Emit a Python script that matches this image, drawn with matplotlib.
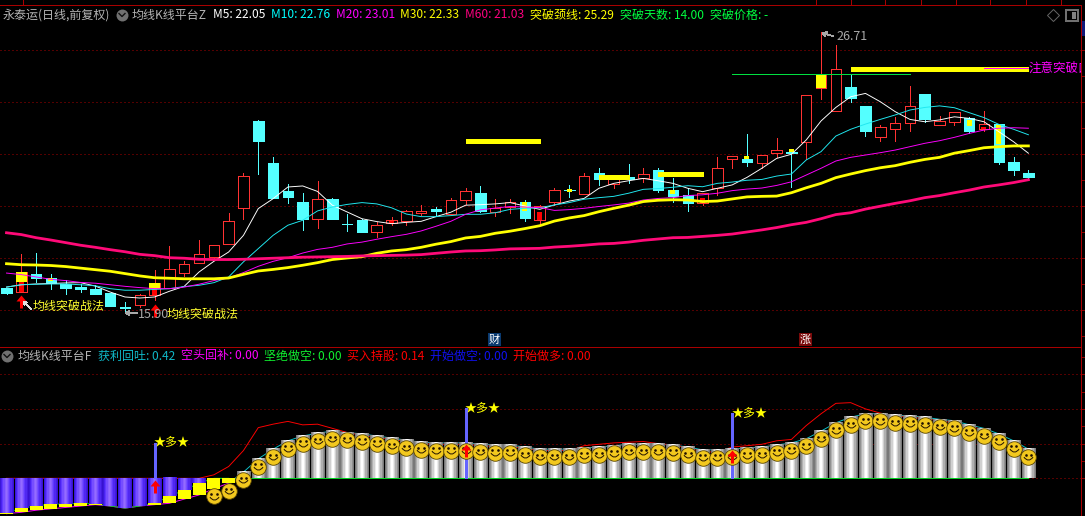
import numpy as np
import matplotlib
matplotlib.use("Agg")
import matplotlib.pyplot as plt
from matplotlib.lines import Line2D
from matplotlib.patches import Rectangle
from matplotlib.path import Path
from matplotlib.transforms import ScaledTranslation

plt.rcParams['font.family'] = ['Noto Sans CJK SC', 'DejaVu Sans']
plt.rcParams['lines.antialiased'] = False
plt.rcParams['patch.antialiased'] = False

W, H = 1085, 516
RED, CYAN = '#ff3232', '#54ffff'
GRID = '#a80000'
THIN = 0.6
HAIR = 0.68

# daily candles
opens = [16.87, 16.71, 17.39, 17.26, 17.02, 16.92, 16.84, 16.67, 16.13, 16.22,
         16.61, 16.87, 17.45, 17.82, 18.07, 18.57, 19.93, 23.29, 21.67, 20.60,
         20.17, 19.51, 20.28, 19.33, 19.48, 19.03, 19.35, 19.45, 19.75, 19.92,
         19.72, 20.26, 20.52, 19.80, 19.97, 20.17, 19.49, 20.18, 20.65, 20.49,
         21.29, 20.85, 21.12, 21.08, 21.40, 20.63, 20.43, 20.15, 20.70, 21.84,
         21.84, 21.68, 22.07, 22.11, 22.49, 24.56, 23.68, 24.60, 23.87, 22.66,
         22.99, 23.22, 24.33, 23.15, 23.26, 23.40, 22.97, 23.17, 21.71, 21.29]
highs = [16.87, 18.17, 18.21, 17.40, 17.18, 17.03, 16.99, 16.67, 16.33, 16.65,
         17.55, 18.48, 17.89, 18.70, 18.51, 19.75, 21.30, 23.33, 21.92, 20.87,
         20.52, 20.97, 20.33, 19.70, 19.52, 19.42, 19.60, 19.87, 20.06, 19.98,
         20.32, 20.70, 20.79, 20.28, 20.28, 20.25, 20.07, 20.70, 20.83, 21.29,
         21.48, 21.20, 21.63, 21.48, 21.48, 21.08, 20.70, 20.52, 21.90, 21.94,
         22.79, 21.97, 22.63, 22.15, 24.28, 26.71, 26.21, 25.07, 23.87, 23.13,
         23.45, 24.63, 24.33, 23.47, 23.62, 23.45, 23.67, 23.17, 21.89, 21.40]
lows = [16.65, 16.71, 17.10, 16.83, 16.65, 16.71, 16.63, 16.17, 15.90, 16.13,
        16.40, 16.87, 17.33, 17.82, 17.97, 18.57, 19.53, 21.25, 20.33, 20.13,
        19.08, 19.18, 19.53, 19.06, 19.00, 18.82, 19.28, 19.29, 19.67, 19.67,
        19.72, 20.10, 19.79, 19.63, 19.76, 19.45, 19.33, 20.06, 20.37, 20.49,
        20.83, 20.71, 20.89, 20.94, 20.56, 20.18, 19.84, 20.06, 20.45, 21.49,
        21.57, 21.48, 21.92, 20.76, 21.84, 24.15, 23.68, 24.03, 22.71, 22.52,
        22.53, 22.92, 23.26, 23.15, 23.13, 22.82, 22.92, 21.63, 21.21, 21.10]
closes = [16.68, 17.48, 17.25, 17.06, 16.88, 16.84, 16.65, 16.17, 16.11, 16.58,
          17.05, 17.61, 17.78, 18.16, 18.51, 19.43, 21.16, 22.52, 20.33, 20.37,
          19.53, 20.28, 19.53, 19.31, 19.02, 19.28, 19.47, 19.82, 19.82, 19.83,
          20.24, 20.58, 19.83, 19.95, 20.16, 19.56, 20.03, 20.62, 20.63, 21.17,
          21.06, 21.15, 21.05, 21.24, 20.63, 20.40, 20.12, 20.51, 21.47, 21.94,
          21.72, 21.97, 22.16, 22.06, 24.28, 25.10, 25.28, 24.17, 22.92, 23.05,
          23.20, 23.85, 23.38, 23.29, 23.62, 22.92, 23.16, 21.71, 21.40, 21.13]

# moving averages
m5 = [16.90, 16.99, 17.02, 17.04, 17.06, 17.07, 16.94, 16.71, 16.52, 16.48,
      16.52, 16.74, 16.93, 17.48, 17.89, 18.25, 18.89, 19.92, 20.30, 20.75,
      20.79, 20.58, 20.05, 19.79, 19.53, 19.42, 19.34, 19.39, 19.43, 19.61,
      19.78, 20.05, 20.07, 20.10, 20.15, 20.02, 19.89, 20.06, 20.21, 20.31,
      20.70, 20.89, 20.99, 21.08, 20.99, 20.89, 20.70, 20.57, 20.70, 20.83,
      21.12, 21.47, 21.85, 22.01, 22.56, 23.29, 23.81, 24.22, 24.35, 24.03,
      23.65, 23.35, 23.26, 23.33, 23.45, 23.39, 23.26, 22.88, 22.49, 22.05]
m10 = [16.90, 16.99, 17.01, 17.02, 17.02, 16.99, 16.95, 16.84, 16.78, 16.78,
       16.81, 16.84, 16.92, 16.97, 17.07, 17.29, 17.87, 18.38, 18.89, 19.28,
       19.47, 19.83, 19.98, 20.08, 20.15, 20.10, 19.95, 19.71, 19.61, 19.61,
       19.65, 19.70, 19.70, 19.76, 19.89, 19.93, 19.95, 20.06, 20.15, 20.28,
       20.34, 20.39, 20.51, 20.66, 20.69, 20.74, 20.80, 20.76, 20.89, 20.94,
       21.01, 21.04, 21.17, 21.25, 21.79, 22.11, 22.71, 22.97, 23.17, 23.35,
       23.52, 23.71, 23.81, 23.87, 23.80, 23.61, 23.42, 23.16, 22.97, 22.76]
m20 = [17.44, 17.38, 17.29, 17.20, 17.15, 17.08, 17.05, 16.99, 16.93, 16.88,
       16.84, 16.84, 16.90, 17.01, 17.15, 17.25, 17.46, 17.70, 17.89, 18.03,
       18.21, 18.35, 18.43, 18.56, 18.63, 18.74, 18.84, 18.93, 19.06, 19.24,
       19.43, 19.70, 19.87, 19.94, 20.00, 19.98, 19.96, 19.85, 19.88, 19.93,
       20.00, 20.06, 20.13, 20.25, 20.31, 20.34, 20.42, 20.45, 20.51, 20.61,
       20.67, 20.71, 20.81, 20.95, 21.21, 21.47, 21.75, 21.89, 21.98, 22.07,
       22.17, 22.30, 22.43, 22.53, 22.66, 22.81, 22.94, 23.01, 23.03, 23.01]
m30 = [17.80, 17.76, 17.75, 17.73, 17.69, 17.63, 17.57, 17.51, 17.42, 17.33,
       17.26, 17.24, 17.22, 17.22, 17.22, 17.25, 17.39, 17.52, 17.58, 17.65,
       17.74, 17.84, 17.96, 18.02, 18.07, 18.20, 18.29, 18.34, 18.43, 18.55,
       18.65, 18.79, 18.85, 18.97, 19.05, 19.15, 19.26, 19.44, 19.56, 19.65,
       19.80, 19.93, 20.05, 20.19, 20.24, 20.26, 20.25, 20.19, 20.21, 20.29,
       20.37, 20.39, 20.40, 20.53, 20.72, 20.89, 21.11, 21.25, 21.38, 21.49,
       21.57, 21.70, 21.81, 21.89, 22.05, 22.15, 22.26, 22.30, 22.33, 22.33]
m60 = [18.99, 18.92, 18.80, 18.71, 18.61, 18.51, 18.43, 18.34, 18.26, 18.16,
       18.11, 18.03, 18.01, 17.97, 17.96, 17.96, 17.97, 17.99, 18.01, 18.03,
       18.05, 18.06, 18.07, 18.08, 18.10, 18.11, 18.12, 18.13, 18.15, 18.20,
       18.25, 18.29, 18.30, 18.33, 18.37, 18.38, 18.39, 18.44, 18.47, 18.51,
       18.56, 18.58, 18.63, 18.70, 18.75, 18.80, 18.81, 18.85, 18.89, 18.94,
       19.02, 19.10, 19.19, 19.30, 19.39, 19.53, 19.69, 19.76, 19.90, 20.01,
       20.12, 20.22, 20.34, 20.42, 20.53, 20.63, 20.75, 20.83, 20.92, 21.03]

# signal overlays on the candles
yellow_wide_idx = [1, 10, 55]
yellow_wide_top = [17.48, 17.05, 25.10]
yellow_wide_bot = [17.10, 16.82, 24.56]
yellow_thin_idx = [3, 35, 38, 45, 50, 53, 65, 67]
yellow_thin_top = [17.25, 20.16, 20.67, 20.63, 21.94, 22.20, 23.33, 23.15]
yellow_thin_bot = [17.12, 19.84, 20.57, 20.48, 21.82, 22.10, 23.10, 22.40]
red_fill_idx = [1, 10, 26, 36, 47, 66]
red_fill_top = [17.10, 16.82, 19.45, 19.78, 20.33, 23.06]
red_fill_bot = [16.71, 16.61, 19.38, 19.49, 20.15, 22.97]

# horizontal platform lines: start bar, end bar, price
platform_start = [31, 40, 44, 57]
platform_end = [36, 42, 47, 69]
platform_price = [22.51, 21.15, 21.24, 25.27]
neck_start, neck_end, neck_price = 49, 61, 25.08

up_arrow_idx = [1, 10]
up_arrow_price = [16.61, 16.26]

# lower indicator
profit = [-.51, -.49, -.46, -.44, -.42, -.40, -.38, -.40, -.43, -.40,
          -.38, -.36, -.30, -.24, -.15, -.07, .09, .28, .42, .54,
          .61, .65, .68, .66, .64, .61, .58, .55, .52, .51,
          .51, .51, .49, .48, .48, .45, .42, .42, .42, .44,
          .45, .47, .49, .49, .49, .48, .45, .41, .41, .42,
          .44, .45, .48, .51, .57, .68, .80, .88, .93, .93,
          .91, .90, .88, .85, .83, .77, .72, .64, .54, .42]
purple_end = [-.50, -.43, -.40, -.37, -.37, -.36, -.37, -.40, -.43, -.40,
              -.36, -.26, -.17, -.07, 0, 0]
red_line = [0, 0, 0, 0, 0, 0, 0, 0, 0, 0,
            0, 0, 0, 0, .05, .17, .40, .73, .78, .82,
            .77, .78, .72, .66, .62, .59, .56, .53, .50, .49,
            .49, .49, .47, .46, .46, .43, .40, .40, .40, .47,
            .49, .51, .52, .53, .50, .48, .44, .38, .38, .45,
            .47, .49, .54, .56, .76, .93, 1.08, 1.09, 1.00, .94,
            .90, .88, .86, .83, .80, .75, .70, .60, .50, .40]
flag_idx = [10, 31, 49]
flag_top = [.51, 1.01, .94]
flag_arrow = [-.02, .49, .41]

legend_top = [
    (213, 'M5: 22.05', '#ffffff'),
    (271, 'M10: 22.76', '#00ffff'),
    (336, 'M20: 23.01', '#ff00ff'),
    (400, 'M30: 22.33', '#ffff00'),
    (465, 'M60: 21.03', '#ff0080'),
    (530, '突破颈线: 25.29', '#ffff00'),
    (620, '突破天数: 14.00', '#00ff40'),
    (710, '突破价格: -', '#00ff40'),
]
legend_low = [
    (98, '获利回吐: 0.42', '#10b8c8'),
    (181, '空头回补: 0.00', '#ff00ff'),
    (264, '坚绝做空: 0.00', '#10f030'),
    (347, '买入持股: 0.14', '#ff0000'),
    (430, '开始做空: 0.00', '#1010f0'),
    (513, '开始做多: 0.00', '#ff0000'),
]

n = len(closes)
idx = np.arange(n)
opens, highs, lows, closes = map(np.array, (opens, highs, lows, closes))
profit, red_line = np.array(profit), np.array(red_line)

fig = plt.figure(figsize=(W / 100, H / 100), dpi=100, facecolor='black')
ax = fig.add_axes([0, 1 - 347 / H, 1081 / W, 342 / H], facecolor='black')
ax2 = fig.add_axes([0, 0, 1081 / W, 169 / H], facecolor='black')

bar_px = 14.81
xlim = (-6.5 / bar_px, (1081 - 6.5) / bar_px)
px = 1 / bar_px   # one pixel in bar units
dots = [(0, (1.0, 3.0))]


def put(x, y, s, color, size=8.64, **kw):
    return fig.text(x / W, 1 - y / H, s, color=color, fontsize=size, va='center', **kw)


def shift(axes, dx, dy):
    return axes.transData + ScaledTranslation(dx / 100, dy / 100, fig.dpi_scale_trans)


# candles
up = closes >= opens
ax.vlines(idx[up], lows[up], highs[up], color=RED, lw=THIN, zorder=2)
ax.vlines(idx[~up], lows[~up], highs[~up], color=CYAN, lw=THIN, zorder=2)
body_w = 10.5 * px
ax.bar(idx[up], (closes - opens)[up], bottom=opens[up], width=body_w,
       facecolor='black', edgecolor=RED, linewidth=THIN, zorder=3)
ax.bar(idx[~up], (opens - closes)[~up], bottom=closes[~up], width=body_w,
       facecolor=CYAN, edgecolor=CYAN, linewidth=THIN, zorder=3)

ax.bar(yellow_wide_idx, np.subtract(yellow_wide_top, yellow_wide_bot), bottom=yellow_wide_bot,
       width=body_w, color='#ffff00', zorder=4)
ax.bar(yellow_thin_idx, np.subtract(yellow_thin_top, yellow_thin_bot), bottom=yellow_thin_bot,
       width=5 * px, color='#ffff00', zorder=4)
ax.bar(red_fill_idx, np.subtract(red_fill_top, red_fill_bot), bottom=red_fill_bot,
       width=5 * px, color='#ff0000', zorder=4)

# moving average lines go over the candles
ax.plot(idx, m5, color='#ffffff', lw=HAIR, zorder=5, antialiased=True)
ax.plot(idx, m10, color='#20e8f0', lw=HAIR, zorder=5, antialiased=True)
ax.plot(idx, m20, color='#ff00ff', lw=HAIR, zorder=5, antialiased=True)
ax.plot(idx, m30, color='#ffff00', lw=2.0, zorder=6, antialiased=True)
ax.plot(idx, m60, color='#ff0a78', lw=2.0, zorder=6, antialiased=True)

ax.hlines(platform_price, platform_start, platform_end, color='#ffff00', lw=2.2, zorder=7)
ax.hlines(neck_price, neck_start, neck_end, color='#00e040', lw=THIN, zorder=7)
ax.hlines(25.33, 66, 69, color='#ff00ff', lw=THIN, zorder=8)

arrow_path = Path([(0, 0), (5, -6), (1.5, -6), (1.5, -13), (-1.5, -13), (-1.5, -6), (-5, -6), (0, 0)])
ax.plot(up_arrow_idx, up_arrow_price, ls='none', marker=arrow_path, ms=18.7,
        mfc='#ff0000', mec='none', zorder=9)

ax.text(69, 25.33, '注意突破口', color='#ff00ff', fontsize=9, va='center', clip_on=True, zorder=10)

ax.set_xlim(xlim)
ax.set_ylim(22 + (154.5 - 347) / 26, 22 + (154.5 - 5) / 26)
ax.set_yticks(np.arange(15, 28))
ax.hlines(np.arange(16, 27, 2), xlim[0], xlim[1], color=GRID, lw=0.72, linestyles=dots, zorder=1,
          antialiaseds=True)

# lower panel: purple bars under zero, silver bars above
purple = np.array([[[58, 24, 216], [74, 34, 240], [96, 56, 255], [118, 78, 255], [138, 96, 255], [148, 108, 255],
                    [138, 96, 255], [118, 78, 255], [96, 56, 255], [80, 40, 240], [66, 28, 224], [56, 16, 208]]],
                  dtype=np.uint8)
silver = np.array([[[120] * 3, [145] * 3, [176] * 3, [208] * 3, [236] * 3, [255] * 3,
                    [255] * 3, [236] * 3, [208] * 3, [176] * 3, [145] * 3, [120] * 3]], dtype=np.uint8)
half = 6.7 * px

ax2.hlines(0, 14, 69, color='#00d020', lw=THIN, zorder=1)
ax2.plot(idx[:16], profit[:16], color='#ff00ff', lw=HAIR, zorder=1, antialiased=True)
ax2.plot(idx[:16], purple_end, color='#00d020', lw=HAIR, zorder=1, antialiased=True)
ax2.plot(idx[15:], profit[15:], color='#10c0c8', lw=HAIR, zorder=1, antialiased=True)
ax2.plot(idx, red_line, color='#ff0000', lw=HAIR, zorder=1, antialiased=True)

for i in range(14):
    ax2.imshow(purple, extent=[i - half, i + half, purple_end[i], 0], aspect='auto',
               interpolation='nearest', zorder=2)
for i in range(16, n):
    ax2.imshow(silver, extent=[i - half, i + half, 0, profit[i]], aspect='auto',
               interpolation='nearest', zorder=2)
ax2.bar(idx[:16], np.array(purple_end) - profit[:16], bottom=profit[:16], width=13 * px,
        color='#ffff00', zorder=3)

ax2.vlines(flag_idx, 0, flag_top, color='#6464ff', lw=2.1, zorder=4)

# smiley faces sit just under each value
sx, sy = idx[14:], profit[14:]
ax2.plot(sx, sy, ls='none', marker='o', ms=11.2, mfc='#f2c81e', mec='#5a4600', mew=0.6, zorder=5,
         transform=shift(ax2, 0, -7.7), antialiased=True)
for dx in (-2.8, 2.8):
    ax2.plot(sx, sy, ls='none', marker='o', ms=1.9, mfc='#201000', mec='none', zorder=6,
             transform=shift(ax2, dx, -5.5), antialiased=True)
mouth = Path([(-1, 0.3), (0, -1), (1, 0.3)], [Path.MOVETO, Path.CURVE3, Path.CURVE3])
ax2.plot(sx, sy, ls='none', marker=mouth, ms=6.6, mfc='none', mec='#201000', mew=0.7, zorder=6,
         transform=shift(ax2, 0, -9), antialiased=True)

ax2.plot(flag_idx, flag_arrow, ls='none', marker=arrow_path, ms=18.7, mfc='#ff0000', mec='none', zorder=7)
for i, top in zip(flag_idx, flag_top):
    ax2.annotate('★多★', xy=(i, top), xytext=(-1, 0), textcoords='offset pixels', color='#ffff00',
                 fontsize=8.64, va='center', zorder=8)

ax2.set_xlim(xlim)
ax2.set_ylim((478.3 - 516) / 69.4, (478.3 - 347) / 69.4)
ax2.set_yticks(np.arange(0, 1.76, 0.25))
ax2.hlines([0, 0.5, 1.0, 1.5], xlim[0], xlim[1], color=GRID, lw=0.72, linestyles=dots, zorder=0,
           antialiaseds=True)

for a in (ax, ax2):
    a.set_xticks([])
    a.yaxis.tick_right()
    a.tick_params(axis='y', length=3, width=THIN, color=GRID, labelright=False, labelleft=False)
    for side in ('left', 'bottom'):
        a.spines[side].set_visible(False)
    for side in ('top', 'right'):
        a.spines[side].set_color(GRID)
        a.spines[side].set_linewidth(0.7)

# header row, top panel
put(3, 15, '永泰运(日线,前复权)', '#b4b4b4')
put(132, 15, '均线K线平台Z', '#b4b4b4')
for x, s, c in legend_top:
    put(x, 15, s, c)

# header row, lower panel
put(18, 356, '均线K线平台F', '#b4b4b4')
for x, s, c in legend_low:
    put(x, 356, s, c)

for cx, cy in ((122, 15), (7, 356)):
    fig.add_artist(Line2D([cx / W], [1 - cy / H], marker='o', ms=8.6, mfc='#707070', mec='none',
                          transform=fig.transFigure, antialiased=True))
    fig.add_artist(Line2D([(cx - 3) / W, cx / W, (cx + 3) / W],
                          [1 - (cy - 1.5) / H, 1 - (cy + 1.5) / H, 1 - (cy - 1.5) / H],
                          color='#101010', lw=1, transform=fig.transFigure, antialiased=True))

# window icons, top right
fig.add_artist(Line2D([1053 / W], [1 - 15 / H], marker='D', ms=6.5, mfc='none', mec='#666666', mew=0.7,
                      transform=fig.transFigure, antialiased=True))
fig.add_artist(Rectangle((1066 / W, 1 - 21 / H), 12 / W, 11 / H, fc='none', ec='#707070', lw=1.1,
                         transform=fig.transFigure))
fig.add_artist(Rectangle((1072 / W, 1 - 19 / H), 4 / W, 7 / H, fc='#808080', ec='none',
                         transform=fig.transFigure))
fig.add_artist(Rectangle((1082 / W, 1 - 36 / H), 3 / W, 15 / H, fc='#101878', ec='none',
                         transform=fig.transFigure))

# top strip dividers above the first panel
for x in (23, 816, 851, 885, 921, 956, 990, 1026, 1061):
    fig.add_artist(Line2D([x / W, x / W], [1 - 5 / H, 1], color=GRID, lw=0.7, transform=fig.transFigure))

# high / low marks and strategy notes
put(836, 37, '26.71', '#a8a8a8', size=9)
put(138, 314.5, '15.90', '#a8a8a8', size=9)
put(33, 306, '均线突破战法', '#ffff30')
put(166.5, 314.5, '均线突破战法', '#ffff30')
note_arrows = [((822, 33), (833, 36), '#a8a8a8'), ((125, 313), (137, 313), '#a8a8a8'), ((23, 301), (31, 309), '#e0e0e0')]
for (x0, y0), (x1, y1), c in note_arrows:
    ax.annotate('', xy=(x0, H - y0), xytext=(x1, H - y1), xycoords='figure pixels', textcoords='figure pixels',
                arrowprops=dict(arrowstyle='->,head_length=0.25,head_width=0.15', color=c, lw=0.6,
                                shrinkA=0, shrinkB=0), zorder=10)

# event badges
for x, s, bg in ((494.5, '财', '#0a3a70'), (805.5, '涨', '#7a0a0a')):
    fig.add_artist(Rectangle(((x - 6.5) / W, 1 - 346 / H), 13 / W, 13 / H, fc=bg, ec='none',
                             transform=fig.transFigure))
    put(x, 339.5, s, '#ffffff', size=8, ha='center')

fig.savefig('out.png', dpi=100, facecolor='black')
